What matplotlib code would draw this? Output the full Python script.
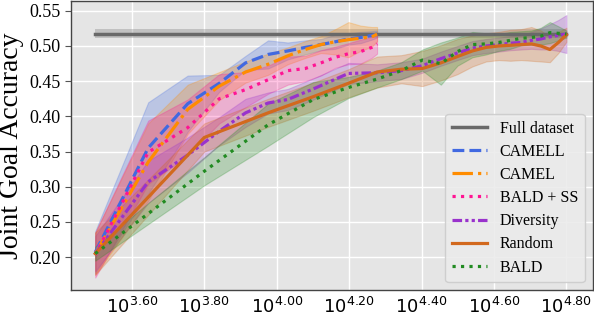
import numpy as np
import matplotlib
matplotlib.use("Agg")
import matplotlib.pyplot as plt
from matplotlib.ticker import FixedLocator, FixedFormatter, NullLocator

plt.rcParams['font.family'] = ['Liberation Serif', 'DejaVu Serif']
plt.rcParams['mathtext.fontset'] = 'dejavusans'

# labelled set sizes (x axis, log scale)
sizes_al = [3155, 4417, 5679, 6941, 8203, 9465, 10727, 11989, 13251,
            14513, 15775, 17037, 18299, 18930]
sizes_div = [3155, 4417, 5679, 6941, 8203, 9465, 10727, 12620, 15775,
             18930, 22085, 25240, 28395, 31550, 34705, 37860, 41015,
             44170, 47325, 50480, 53635, 56790, 59945, 63100]
sizes_full = [3155, 6310, 9465, 12620, 15775, 18930, 22085, 25240, 28395,
              31550, 34705, 37860, 41015, 44170, 47325, 50480, 53635,
              56790, 59945, 63100]

full_acc = 0.5175
full_std = 0.006

camell_mean = [0.207, 0.355, 0.418, 0.447, 0.476, 0.488, 0.493, 0.498,
               0.502, 0.506, 0.510, 0.512, 0.515, 0.517]
camell_std = [0.030, 0.065, 0.040, 0.012, 0.010, 0.020, 0.012, 0.010,
              0.008, 0.010, 0.008, 0.008, 0.006, 0.005]

camel_mean = [0.205, 0.335, 0.410, 0.443, 0.463, 0.474, 0.486, 0.495,
              0.502, 0.506, 0.509, 0.511, 0.513, 0.517]
camel_std = [0.030, 0.055, 0.035, 0.020, 0.015, 0.015, 0.012, 0.012,
             0.012, 0.018, 0.025, 0.018, 0.014, 0.010]

baldss_mean = [0.203, 0.349, 0.384, 0.425, 0.438, 0.452, 0.465, 0.468,
               0.476, 0.484, 0.489, 0.492, 0.498, 0.503]
baldss_std = [0.032, 0.045, 0.040, 0.035, 0.025, 0.020, 0.020, 0.018,
              0.018, 0.015, 0.015, 0.017, 0.015, 0.014]

div_mean = [0.205, 0.307, 0.345, 0.379, 0.405, 0.419, 0.424, 0.439,
            0.461, 0.462, 0.465, 0.472, 0.482, 0.490, 0.497, 0.500,
            0.502, 0.504, 0.505, 0.508, 0.510, 0.513, 0.515, 0.517]
div_std = [0.025, 0.030, 0.025, 0.020, 0.020, 0.015, 0.015, 0.015,
           0.015, 0.012, 0.012, 0.010, 0.010, 0.010, 0.010, 0.010,
           0.010, 0.010, 0.010, 0.012, 0.015, 0.018, 0.022, 0.027]

random_mean = [0.205, 0.370, 0.405, 0.428, 0.447, 0.463, 0.467, 0.468,
               0.476, 0.485, 0.493, 0.498, 0.500, 0.501, 0.502, 0.503,
               0.500, 0.495, 0.505, 0.516]
random_std = [0.030, 0.020, 0.020, 0.020, 0.020, 0.022, 0.020, 0.025,
              0.025, 0.025, 0.022, 0.020, 0.020, 0.022, 0.022, 0.024,
              0.022, 0.018, 0.015, 0.010]

bald_mean = [0.205, 0.322, 0.388, 0.424, 0.441, 0.453, 0.465, 0.480,
             0.475, 0.492, 0.502, 0.503, 0.505, 0.508, 0.511, 0.512,
             0.514, 0.519, 0.518, 0.517]
bald_std = [0.010, 0.020, 0.030, 0.025, 0.015, 0.012, 0.012, 0.015,
            0.030, 0.020, 0.018, 0.015, 0.012, 0.012, 0.010, 0.010,
            0.012, 0.015, 0.010, 0.005]

xtick_exps = [3.6, 3.8, 4.0, 4.2, 4.4, 4.6, 4.8]
yticks = [0.20, 0.25, 0.30, 0.35, 0.40, 0.45, 0.50, 0.55]

series = [
    ("CAMELL", sizes_al, camell_mean, camell_std, "royalblue", "--"),
    ("CAMEL", sizes_al, camel_mean, camel_std, "darkorange", "-."),
    ("BALD + SS", sizes_al, baldss_mean, baldss_std, "deeppink", ":"),
    ("Diversity", sizes_div, div_mean, div_std, "darkorchid", (0, (3, 1, 1, 1, 1, 1))),
    ("Random", sizes_full, random_mean, random_std, "chocolate", "-"),
    ("BALD", sizes_full, bald_mean, bald_std, "forestgreen", ":"),
]

fig = plt.figure(figsize=(5.94, 3.18), dpi=100)
ax = fig.add_axes([0.1195, 0.088, 0.878, 0.909])
ax.set_facecolor("#E5E5E5")

fx = np.array([sizes_full[0], sizes_full[-1]])
ax.fill_between(fx, full_acc - full_std, full_acc + full_std, color="gray", alpha=0.35, lw=0)
ax.plot(fx, [full_acc, full_acc], color="dimgray", lw=2.5, label="Full dataset")

for name, xs, m, s, col, ls in series:
    m = np.array(m)
    s = np.array(s)
    ax.fill_between(xs, m - s, m + s, color=col, alpha=0.25, lw=0.8)
    ax.plot(xs, m, color=col, ls=ls, lw=2.3, label=name)

ax.set_xscale("log")
ax.set_xlim(2704, 74480)
ax.set_ylim(0.1533, 0.564)
ax.xaxis.set_major_locator(FixedLocator([10 ** e for e in xtick_exps]))
ax.xaxis.set_major_formatter(FixedFormatter([r"$10^{%.2f}$" % e for e in xtick_exps]))
ax.xaxis.set_minor_locator(NullLocator())
ax.set_yticks(yticks)
ax.set_yticklabels(["%.2f" % v for v in yticks])
ax.tick_params(axis="x", labelsize=13, length=0, pad=5)
ax.tick_params(axis="y", labelsize=13, length=4, color="#555555")

ax.grid(True, color="white", lw=1.0)
ax.set_axisbelow(True)
for sp in ax.spines.values():
    sp.set_color("#444444")
    sp.set_linewidth(1.0)

ax.set_ylabel("Joint Goal Accuracy", fontsize=20, labelpad=4)
ax.legend(loc="lower right", fontsize=11.5, handlelength=2.2,
          facecolor="#EBEBEB", edgecolor="#CCCCCC", framealpha=0.9,
          labelspacing=0.45)

fig.savefig("out.png", dpi=100)
